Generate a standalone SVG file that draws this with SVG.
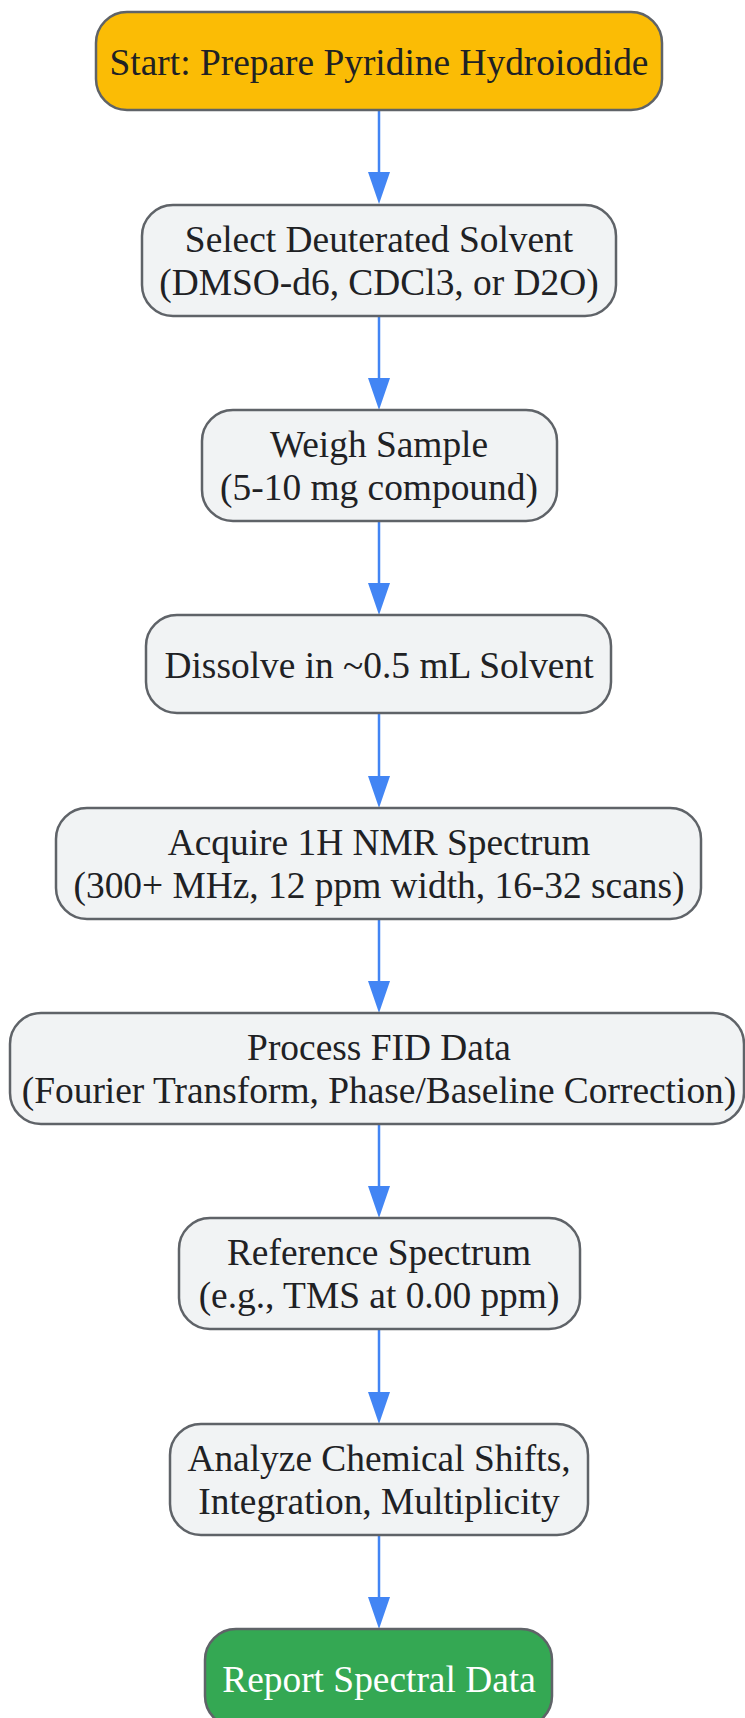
<svg xmlns="http://www.w3.org/2000/svg" width="745" height="1718" viewBox="0 0 745 1718">
<defs>
<style>
.box{fill:#F1F3F4;stroke:#5F6368;stroke-width:2.5}
.start{fill:#FBBC05;stroke:#5F6368;stroke-width:2.5}
.end{fill:#34A853;stroke:#5F6368;stroke-width:2.5}
.t{font-family:"Liberation Serif","Times New Roman",serif;font-size:37.4px;fill:#202124;text-anchor:middle}
.tw{fill:#FFFFFF}
.edge{stroke:#4285F4;stroke-width:2.5;fill:none}
.head{fill:#4285F4}
</style>
</defs>
<rect width="745" height="1718" fill="#FFFFFF"/>
<g id="connectors">
<line class="edge" x1="379" y1="110" x2="379" y2="178"/>
<path class="head" d="M368,172 L390,172 L379,204 Z"/>
<line class="edge" x1="379" y1="316" x2="379" y2="384"/>
<path class="head" d="M368,378 L390,378 L379,410 Z"/>
<line class="edge" x1="379" y1="521" x2="379" y2="589"/>
<path class="head" d="M368,583 L390,583 L379,615 Z"/>
<line class="edge" x1="379" y1="713" x2="379" y2="782"/>
<path class="head" d="M368,776 L390,776 L379,808 Z"/>
<line class="edge" x1="379" y1="919" x2="379" y2="987"/>
<path class="head" d="M368,981 L390,981 L379,1013 Z"/>
<line class="edge" x1="379" y1="1124" x2="379" y2="1192"/>
<path class="head" d="M368,1186 L390,1186 L379,1218 Z"/>
<line class="edge" x1="379" y1="1329" x2="379" y2="1398"/>
<path class="head" d="M368,1392 L390,1392 L379,1424 Z"/>
<line class="edge" x1="379" y1="1535" x2="379" y2="1603"/>
<path class="head" d="M368,1597 L390,1597 L379,1629 Z"/>
</g>
<g id="n1">
<rect class="start" x="96" y="12" width="566" height="98" rx="31"/>
<text class="t" x="379" y="75">Start: Prepare Pyridine Hydroiodide</text>
</g>
<g id="n2">
<rect class="box" x="142" y="205" width="474" height="111" rx="31"/>
<text class="t" x="379" y="252">Select Deuterated Solvent</text>
<text class="t" x="379" y="295">(DMSO-d6, CDCl3, or D2O)</text>
</g>
<g id="n3">
<rect class="box" x="202" y="410" width="355" height="111" rx="31"/>
<text class="t" x="379" y="457">Weigh Sample</text>
<text class="t" x="379" y="500">(5-10 mg compound)</text>
</g>
<g id="n4">
<rect class="box" x="146" y="615" width="465" height="98" rx="31"/>
<text class="t" x="379" y="678">Dissolve in ~0.5 mL Solvent</text>
</g>
<g id="n5">
<rect class="box" x="56" y="808" width="645" height="111" rx="31"/>
<text class="t" x="379" y="855">Acquire 1H NMR Spectrum</text>
<text class="t" x="379" y="898">(300+ MHz, 12 ppm width, 16-32 scans)</text>
</g>
<g id="n6">
<rect class="box" x="10" y="1013" width="734" height="111" rx="31"/>
<text class="t" x="379" y="1060">Process FID Data</text>
<text class="t" x="379" y="1103">(Fourier Transform, Phase/Baseline Correction)</text>
</g>
<g id="n7">
<rect class="box" x="179" y="1218" width="401" height="111" rx="31"/>
<text class="t" x="379" y="1265">Reference Spectrum</text>
<text class="t" x="379" y="1308">(e.g., TMS at 0.00 ppm)</text>
</g>
<g id="n8">
<rect class="box" x="170" y="1424" width="418" height="111" rx="31"/>
<text class="t" x="379" y="1471">Analyze Chemical Shifts,</text>
<text class="t" x="379" y="1514">Integration, Multiplicity</text>
</g>
<g id="n9">
<rect class="end" x="205" y="1629" width="347" height="98" rx="31"/>
<text class="t tw" x="379" y="1692">Report Spectral Data</text>
</g>
</svg>
